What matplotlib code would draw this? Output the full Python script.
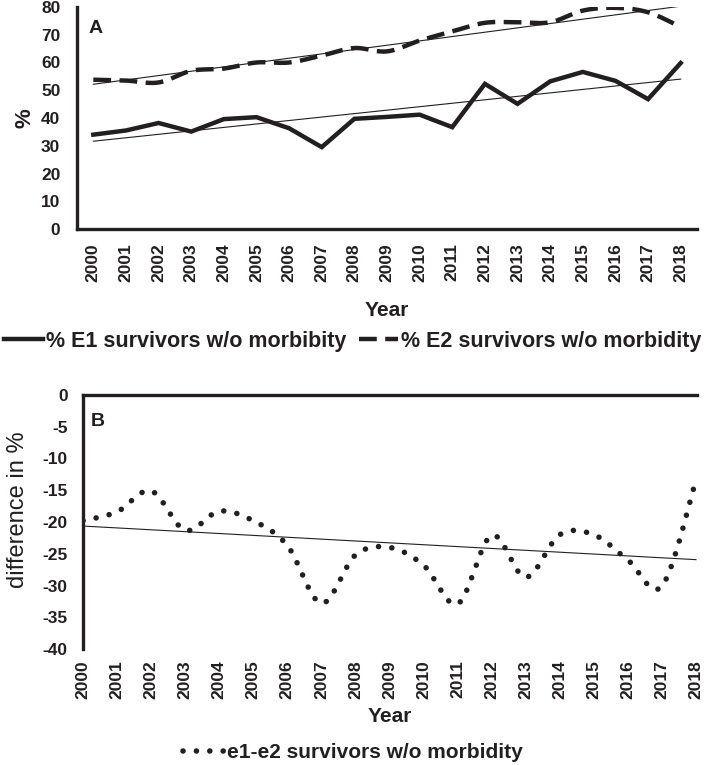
import numpy as np
import matplotlib
matplotlib.use("Agg")
from matplotlib import pyplot as plt
from matplotlib.lines import Line2D

plt.rcParams['font.family'] = ['Liberation Sans', 'DejaVu Sans']
plt.rcParams['axes.unicode_minus'] = False

years = [str(y) for y in range(2000, 2019)]
e1 = [34.0, 35.5, 38.2, 35.1, 39.6, 40.3, 36.3, 29.5, 39.7, 40.4, 41.2,
      36.7, 52.3, 45.1, 53.2, 56.6, 53.4, 46.8, 59.8]
e2 = [53.8, 53.5, 52.8, 57.0, 57.8, 60.0, 60.0, 62.5, 65.2, 64.0, 67.9,
      71.2, 74.3, 74.5, 74.5, 78.7, 79.7, 78.1, 72.8]
diff = [-19.8, -18.4, -15.1, -21.3, -18.3, -19.8, -23.7, -32.8, -25.2, -24.0,
        -26.8, -32.9, -22.1, -28.7, -22.0, -22.0, -26.0, -30.1, -13.4]

ink = '#231f20'
dots = (0, (0.01, 2.4))


def smooth(x, y, n=20):
    # excel-like smoothed line (bezier through the points)
    x = np.asarray(x, float)
    y = np.asarray(y, float)
    pts = np.column_stack([x, y])
    out = [pts[0]]
    for i in range(len(pts) - 1):
        p0 = pts[max(i - 1, 0)]
        p1 = pts[i]
        p2 = pts[i + 1]
        p3 = pts[min(i + 2, len(pts) - 1)]
        c1 = p1 + (p2 - p0) / 6
        c2 = p2 - (p3 - p1) / 6
        t = np.linspace(0, 1, n)[1:, None]
        seg = ((1 - t) ** 3) * p1 + 3 * ((1 - t) ** 2) * t * c1 + 3 * (1 - t) * t ** 2 * c2 + t ** 3 * p2
        out.extend(seg)
    out = np.array(out)
    return out[:, 0], out[:, 1]


fig = plt.figure(figsize=(7.06, 7.65), dpi=100)

# ---- panel A
ax1 = fig.add_axes([77 / 706, 1 - 229 / 765, 620 / 706, 222 / 765])
xs = np.arange(len(years))
ax1.plot(xs, e1, color=ink, lw=3.2, solid_joinstyle='miter')
sx, sy = smooth(xs, e2)
ax1.plot(sx, sy, color=ink, lw=3.2, linestyle=(0, (4, 1.9)))
for ser in (e1, e2):
    k, b = np.polyfit(xs, ser, 1)
    ax1.plot(xs, k * xs + b, color=ink, lw=0.8)
ax1.set_xlim(-0.5, len(years) - 0.5)
ax1.set_ylim(0, 80)
ax1.set_yticks(range(0, 81, 10))
ax1.set_xticks(xs)
ax1.set_xticklabels(years, rotation=90)
for s in ('top', 'right'):
    ax1.spines[s].set_visible(False)
for s in ('left', 'bottom'):
    ax1.spines[s].set_linewidth(2.4)
    ax1.spines[s].set_color(ink)
ax1.tick_params(length=0, labelsize=12.5, colors=ink)
ax1.tick_params(axis='y', pad=12)
ax1.tick_params(axis='x', pad=10)
for lab in ax1.get_xticklabels() + ax1.get_yticklabels():
    lab.set_fontweight('bold')
ax1.set_ylabel('%', fontsize=16, fontweight='bold', color=ink, labelpad=4)
ax1.set_xlabel('Year', fontsize=15, fontweight='bold', color=ink, labelpad=14)
ax1.text(0.018, 0.883, 'A', transform=ax1.transAxes, fontsize=14, fontweight='bold',
         color=ink, va='baseline')

h1 = [Line2D([], [], color=ink, lw=3.2),
      Line2D([], [], color=ink, lw=3.2, linestyle=(0, (4, 1.9)))]
fig.legend(h1, ['% E1 survivors w/o morbibity', '% E2 survivors w/o morbidity'],
           loc='center', bbox_to_anchor=(0.5, 1 - 341 / 765), ncol=2, frameon=False,
           prop={'size': 15.5, 'weight': 'bold'}, handlelength=1.8, handletextpad=0.15,
           columnspacing=0.6, labelcolor=ink)

# ---- panel B
ax2 = fig.add_axes([83 / 706, 1 - 649 / 765, 614 / 706, 254 / 765])
sx, sy = smooth(xs, diff, n=60)
ax2.plot(sx, sy, color=ink, lw=4, linestyle=dots, dash_capstyle='round')
k, b = np.polyfit(xs, diff, 1)
ax2.plot(xs, k * xs + b, color=ink, lw=0.8)
ax2.set_xlim(0, len(years) - 1 + 0.03)
ax2.set_ylim(-40, 0)
ax2.set_yticks(range(-40, 1, 5))
ax2.set_xticks(xs)
ax2.set_xticklabels(years, rotation=90)
for s in ('bottom', 'right'):
    ax2.spines[s].set_visible(False)
for s in ('left', 'top'):
    ax2.spines[s].set_linewidth(2.4)
    ax2.spines[s].set_color(ink)
ax2.tick_params(length=0, labelsize=12.5, colors=ink)
ax2.tick_params(axis='y', pad=11)
ax2.tick_params(axis='x', pad=8)
for lab in ax2.get_xticklabels() + ax2.get_yticklabels():
    lab.set_fontweight('bold')
ax2.set_ylabel('difference in %', fontsize=17, color=ink)
ax2.yaxis.set_label_coords(-0.088, 0.55)
ax2.set_xlabel('Year', fontsize=15, fontweight='bold', color=ink, labelpad=6)
ax2.text(0.013, 0.878, 'B', transform=ax2.transAxes, fontsize=14, fontweight='bold',
         color=ink, va='baseline')

h2 = [Line2D([], [], color=ink, lw=4, linestyle=dots, dash_capstyle='round')]
fig.legend(h2, ['e1-e2 survivors w/o morbidity'], loc='center',
           bbox_to_anchor=(0.5, 1 - 753 / 765), frameon=False,
           prop={'size': 15, 'weight': 'bold'}, handlelength=2.0, handletextpad=0.1,
           labelcolor=ink)

fig.savefig('out.png', dpi=100)
